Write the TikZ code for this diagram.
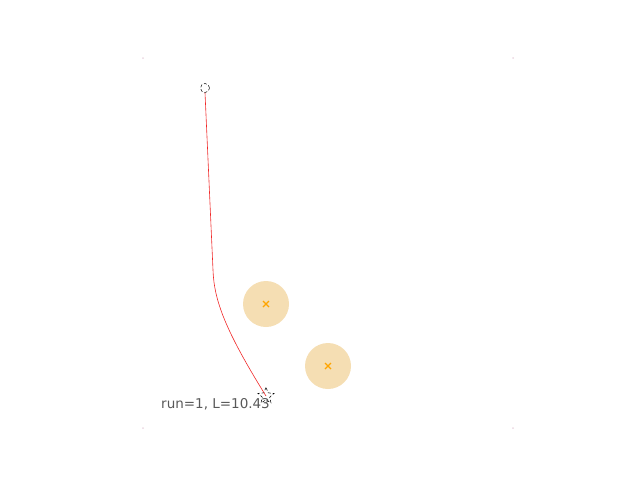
\documentclass[tikz,border=0pt]{standalone}
\usepackage{fontspec}
\setmainfont{DejaVu Sans}
\usetikzlibrary{shapes.geometric}
\definecolor{obstfill}{RGB}{245,222,179}
\definecolor{obstmark}{RGB}{255,165,0}
\definecolor{pathred}{RGB}{240,40,40}
\definecolor{cornerpink}{RGB}{235,215,225}
\tikzset{
  obst/.style={circle, fill=obstfill, minimum size=46pt, inner sep=0pt},
  xmark/.style={obstmark, line width=1.1pt},
  startpt/.style={circle, draw, densely dashed, minimum size=9pt, inner sep=0pt, line width=0.5pt},
  goalpt/.style={star, star points=5, star point ratio=2.2, draw, densely dashed, minimum size=17pt, inner sep=0pt, line width=0.5pt},
}
\begin{document}
\begin{tikzpicture}[x=1pt,y=-1pt]
\useasboundingbox (0,0) rectangle (640,480);

% ===== Plot corners =====
\foreach \cx/\cy in {143/58,513/58,143/428,513/428} {
    \fill[cornerpink] (\cx,\cy) circle (1pt);
}

% ===== Obstacles =====
\node[obst] (obsA) at (266,304) {};
\node[obst] (obsB) at (328,366) {};
\foreach \o in {obsA,obsB} {
    \draw[xmark] ([shift={(-3,-3)}]\o.center) -- ([shift={(3,3)}]\o.center);
    \draw[xmark] ([shift={(-3,3)}]\o.center) -- ([shift={(3,-3)}]\o.center);
}

% ===== Start and goal =====
\node[startpt] (start) at (205,88) {};
\node[goalpt] (goal) at (266,396) {};
\coordinate (bend) at (213,270);

% ===== Path =====
\draw[pathred, line width=0.6pt] (start.south) -- (bend)
    .. controls (214,300) and (225,330) .. (goal.center);

% ===== Label =====
\node[anchor=west, inner sep=0pt, text=black!65, font=\fontsize{13.5}{15}\selectfont] (runlbl) at (161,404) {run=1, L=10.43};

\end{tikzpicture}
\end{document}
